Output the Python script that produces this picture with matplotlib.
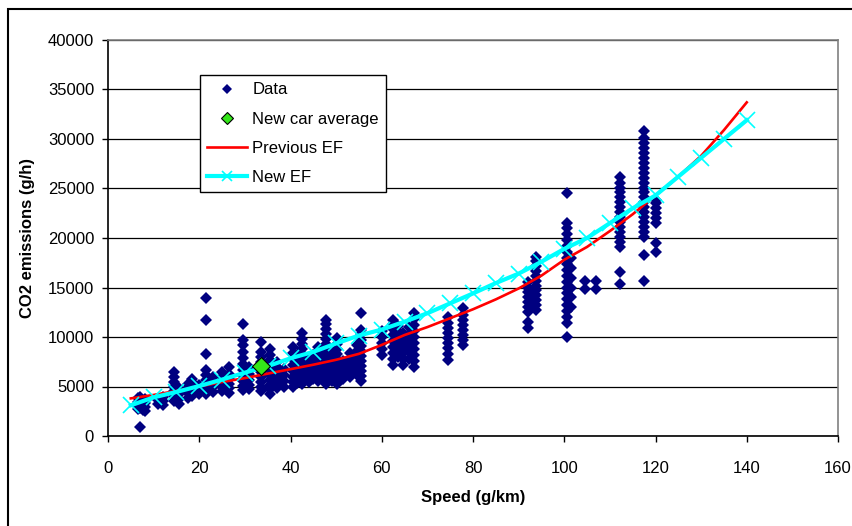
import numpy as np
import matplotlib.pyplot as plt
from matplotlib.patches import Rectangle

plt.rcParams['font.family'] = ['Liberation Sans', 'DejaVu Sans']

# measured data, grouped by speed column (g/km -> list of g/h)
data_columns = {
    6.5: [3800, 3400, 3000, 2700],
    7.0: [950, 3600, 3200, 2800, 3950],
    7.6: [3000, 3500, 2600],
    8.0: [3300, 2900, 3700, 2500],
    11.0: [3200, 3600],
    12.0: [3100, 3500, 3900],
    14.5: [3500, 4000, 4500, 5000, 5500, 6000, 6500],
    15.5: [3200, 3700, 4200, 4800],
    17.5: [3800, 4300, 4800, 5300],
    18.5: [4000, 4500, 5000, 5500, 5800],
    20.0: [4200, 4600, 5200],
    21.5: [4200, 4700, 5200, 5700, 6200, 6700, 8300, 11700, 13900],
    23.0: [4400, 4900, 5400, 6000],
    25.0: [4500, 5000, 5500, 6000, 6500],
    26.5: [4300, 4800, 5300, 5800, 6300, 7000],
    29.5: [4600, 5100, 5600, 6100, 6700, 7300, 7900, 8500, 9200, 9700, 11300],
    31.0: [4700, 5200, 5700, 6300, 7000],
    33.5: [4500, 5000, 5500, 6000, 6500, 7500, 8000, 8500, 9500],
    35.5: [4200, 4700, 5200, 5700, 6200, 6700, 7200, 7700, 8200, 8800],
    37.0: [4800, 5300, 5900, 6500, 7000, 7500],
    38.5: [5000, 5600, 6200, 6800],
    40.5: [5000, 5500, 6000, 6600, 7200, 7800, 8400, 9000],
    41.5: [5400, 6000, 6500, 7000, 7600, 8200],
    42.5: [5300, 5800, 6300, 6800, 7300, 7800, 8300, 8800, 9300, 9800, 10400],
    43.3: [5800, 6400, 7000, 7600],
    44.0: [5500, 6000, 6600, 7200, 7800],
    45.0: [5800, 6400, 7000, 7600, 8200],
    46.0: [5600, 6100, 6600, 7100, 7600, 8100, 8600, 9000],
    47.8: [5300, 5800, 6300, 6800, 7300, 7800, 8300, 8800, 9300, 9800,
           10300, 10800, 11300, 11700],
    49.0: [5600, 6200, 6800, 7400, 8000, 8600],
    50.2: [5300, 5800, 6300, 6800, 7300, 7800, 8300, 8800, 9300, 9900],
    51.5: [5800, 6400, 7000, 7600],
    53.0: [6000, 6600, 7200, 7800, 8400],
    54.5: [6200, 6800, 7400, 8000, 8600, 9200],
    55.5: [5600, 6100, 6600, 7100, 7600, 8100, 8600, 9100, 9700, 10300,
           10700, 12400],
    60.0: [8200, 8800, 9400, 10000, 10600],
    62.5: [7200, 7800, 8400, 9000, 9600, 10200, 10800, 11300, 11700],
    63.5: [8000, 8700, 9300, 9900, 10500, 11100],
    64.7: [7200, 7800, 8400, 9000, 9600, 10000, 10400],
    66.0: [7800, 8500, 9100, 9700, 10300, 11000],
    67.0: [7000, 7600, 8200, 8800, 9400, 10000, 10600, 11200, 11800, 12400],
    74.6: [7700, 8300, 8900, 9400, 9900, 10400, 10900, 11400, 12000],
    77.9: [9200, 9700, 10200, 10700, 11200, 11700, 12200, 12900],
    92.0: [10900, 11500, 12500, 13000, 13500, 14000, 14500, 15000, 15600],
    93.8: [12700, 13200, 13700, 14200, 14700, 15200, 15700, 16200, 16700,
           17200, 17700, 18100],
    100.5: [10000, 11400, 12000, 12600, 13200, 13800, 14400, 15000, 15600,
            16200, 16800, 17400, 18000, 18600, 19200, 19800, 20400, 21000,
            21500, 24500],
    101.5: [13000, 14000, 15000, 16000, 17000, 18000],
    104.5: [14800, 15700],
    107.0: [14800, 15700],
    112.3: [15400, 16600, 19100, 19600, 20100, 20600, 21100, 21600, 22100,
            22600, 23100, 23600, 24100, 24600, 25100, 25600, 26200],
    117.5: [15700, 18300, 20100, 20600, 21100, 21600, 22100, 22600, 23100,
            23600, 24100, 24600, 25100, 25600, 26100, 26600, 27100, 27600,
            28100, 28600, 29100, 29600, 30100, 30800],
    120.0: [18600, 19500, 21500, 22000, 22500, 23000, 23500, 23800],
}

new_car_speed = [33.5]
new_car_co2 = [7070]

ef_speed = [5, 10, 15, 20, 25, 30, 35, 40, 45, 50, 55, 60, 65, 70,
            75, 80, 85, 90, 95, 100, 105, 110, 115, 120, 125, 130, 135, 140]
prev_ef = [3800, 4150, 4550, 5000, 5450, 5850, 6300, 6750, 7200, 7700,
           8300, 9200, 10200, 11000, 11900, 12800, 13800, 14900, 16200,
           17800, 19100, 20700, 22400, 24300, 26200, 28300, 30900, 33700]
new_ef = [3100, 3900, 4450, 5050, 5700, 6400, 7050, 7850, 8500, 9350,
          10150, 10750, 11550, 12400, 13400, 14400, 15450, 16400, 17600,
          18900, 20000, 21500, 23000, 24300, 26200, 28100, 30000, 31900]

xs = []
ys = []
for sp, vals in data_columns.items():
    xs += [sp] * len(vals)
    ys += vals

fig = plt.figure(figsize=(8.52, 5.26), dpi=100)
ax = fig.add_axes([108 / 852, 90 / 526, 730 / 852, 396 / 526])

# outer chart border
fig.patches.append(Rectangle((8 / 852, -0.1), 1.2, 1.1 - 9 / 526,
                             transform=fig.transFigure, fill=False,
                             edgecolor='black', linewidth=1.5))

ax.plot(xs, ys, linestyle='none', marker='D', ms=6.6, mew=0,
        color='#000080', label='Data', zorder=3)
ax.plot(ef_speed, prev_ef, color='#ff0000', lw=1.9, label='Previous EF',
        zorder=5)
ax.plot(ef_speed, new_ef, color='#00ffff', lw=3, marker='x', ms=11,
        mew=1.2, label='New EF', zorder=6)
ax.plot(new_car_speed, new_car_co2, linestyle='none', marker='D', ms=9,
        mfc='#33e619', mec='black', mew=0.8, label='New car average',
        zorder=7)

ax.set_xlim(0, 160)
ax.set_ylim(0, 40000)
ax.set_xticks(np.arange(0, 161, 20))
ax.set_yticks(np.arange(0, 40001, 5000))
ax.yaxis.grid(True, color='black', lw=0.9)
ax.set_axisbelow(True)
ax.tick_params(axis='both', direction='out', length=4, width=1,
               labelsize=12, color='black')
ax.tick_params(axis='x', pad=14)
ax.tick_params(axis='y', pad=6)
for s in ['top', 'right']:
    ax.spines[s].set_color('#808080')
    ax.spines[s].set_linewidth(1.2)
for s in ['left', 'bottom']:
    ax.spines[s].set_linewidth(1.2)

ax.set_xlabel('Speed (g/km)', fontsize=12, fontweight='bold', labelpad=10)
ax.set_ylabel('CO2 emissions (g/h)', fontsize=12, fontweight='bold',
              labelpad=9)

h, l = ax.get_legend_handles_labels()
order = [0, 3, 1, 2]
leg = ax.legend([h[i] for i in order], [l[i] for i in order],
                loc='upper left', bbox_to_anchor=(0.126, 0.912),
                borderaxespad=0, fancybox=False, framealpha=1,
                edgecolor='black', fontsize=12, handlelength=2.4,
                handletextpad=0.3, labelspacing=0.85, borderpad=0.45,
                markerscale=0.7)
leg.get_frame().set_linewidth(1)

fig.savefig('out.png', dpi=100)
